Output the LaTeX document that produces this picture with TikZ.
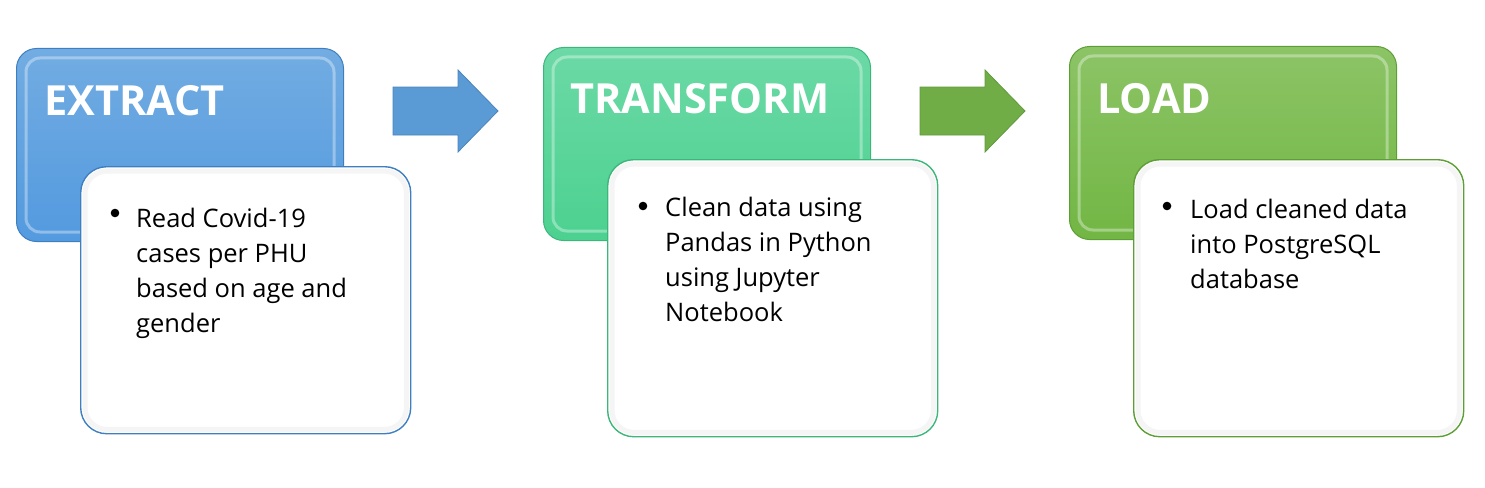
\documentclass[tikz,border=0pt]{standalone}
\usepackage{fontspec}
\setmainfont{Open Sans}
\definecolor{bluetop}{HTML}{72ACE2}
\definecolor{bluebot}{HTML}{539ADF}
\definecolor{blueedge}{HTML}{3F7FC0}
\definecolor{bluearrow}{HTML}{5B9BD5}
\definecolor{bluearrowedge}{HTML}{4A84BC}
\definecolor{tealtop}{HTML}{6CD9A6}
\definecolor{tealbot}{HTML}{4CD190}
\definecolor{tealedge}{HTML}{3DB67A}
\definecolor{greentop}{HTML}{8CC466}
\definecolor{greenbot}{HTML}{72B644}
\definecolor{greenedge}{HTML}{5E9E36}
\definecolor{greenarrow}{HTML}{70AD47}
\definecolor{greenarrowedge}{HTML}{5F9A3B}
\tikzset{
  topbox/.style={rounded corners=20pt, line width=1pt, minimum width=327pt, minimum height=193pt, anchor=north west, inner sep=0pt},
  textbox/.style={rounded corners=26pt, fill=white, line width=1.4pt, minimum width=330pt, minimum height=270pt, anchor=north west, inner sep=0pt},
  head/.style={anchor=base west, inner sep=0pt, text=white, font=\fontsize{41.5}{46}\selectfont\bfseries},
  body/.style={anchor=base west, inner sep=0pt, text=black, font=\fontsize{25.5}{35.2}\selectfont},
  bevel/.style={white, opacity=0.35, line width=3pt, rounded corners=14pt},
  inshade/.style={black!4, line width=5pt, rounded corners=22pt}
}
\begin{document}
\begin{tikzpicture}[x=1pt,y=-1pt]
\useasboundingbox (0,0) rectangle (1485,487);
% ---------------- EXTRACT
\node[topbox, draw=blueedge, top color=bluetop, bottom color=bluebot] (ex) at (16,48) {};
\draw[bevel] ([xshift=10pt,yshift=-10pt]ex.north west) rectangle ([xshift=-10pt,yshift=10pt]ex.south east);
\node[head] (exh) at (44,115) {EXTRACT};
\node[textbox, draw=blueedge, minimum height=267pt] (ext) at (80,166) {};
\draw[inshade] ([xshift=5pt,yshift=-5pt]ext.north west) rectangle ([xshift=-5pt,yshift=5pt]ext.south east);
\fill (115,213) circle (4.3pt);
\node[body] (exb) at (136,227) {\parbox[t]{260pt}{\raggedright Read Covid-19\\cases per PHU\\based on age and\\gender}};
% ---------------- arrow 1
\draw[fill=bluearrow, draw=bluearrowedge, line width=0.8pt, line join=miter]
  (393,87) -- (458,87) -- (458,70) -- (498,111) -- (458,152) -- (458,135) -- (393,135) -- cycle;
% ---------------- TRANSFORM
\node[topbox, draw=tealedge, top color=tealtop, bottom color=tealbot] (tr) at (543,47) {};
\draw[bevel] ([xshift=10pt,yshift=-10pt]tr.north west) rectangle ([xshift=-10pt,yshift=10pt]tr.south east);
\node[head] (trh) at (570,113) {TRANSFORM};
\node[textbox, draw=tealedge, minimum height=277pt] (trt) at (607,159) {};
\draw[inshade] ([xshift=5pt,yshift=-5pt]trt.north west) rectangle ([xshift=-5pt,yshift=5pt]trt.south east);
\fill (643,206) circle (4.3pt);
\node[body] (trb) at (665,216) {\parbox[t]{260pt}{\raggedright Clean data using\\Pandas in Python\\using Jupyter\\Notebook}};
% ---------------- arrow 2
\draw[fill=greenarrow, draw=greenarrowedge, line width=0.8pt, line join=miter]
  (920,87) -- (985,87) -- (985,70) -- (1025,111) -- (985,152) -- (985,135) -- (920,135) -- cycle;
% ---------------- LOAD
\node[topbox, draw=greenedge, top color=greentop, bottom color=greenbot] (ld) at (1069,46) {};
\draw[bevel] ([xshift=10pt,yshift=-10pt]ld.north west) rectangle ([xshift=-10pt,yshift=10pt]ld.south east);
\node[head] (ldh) at (1097,113) {LOAD};
\node[textbox, draw=greenedge, minimum height=277pt] (ldt) at (1133,159) {};
\draw[inshade] ([xshift=5pt,yshift=-5pt]ldt.north west) rectangle ([xshift=-5pt,yshift=5pt]ldt.south east);
\fill (1167,206) circle (4.3pt);
\node[body] (ldb) at (1190,218) {\parbox[t]{260pt}{\raggedright Load cleaned data\\into PostgreSQL\\database}};
\end{tikzpicture}
\end{document}
